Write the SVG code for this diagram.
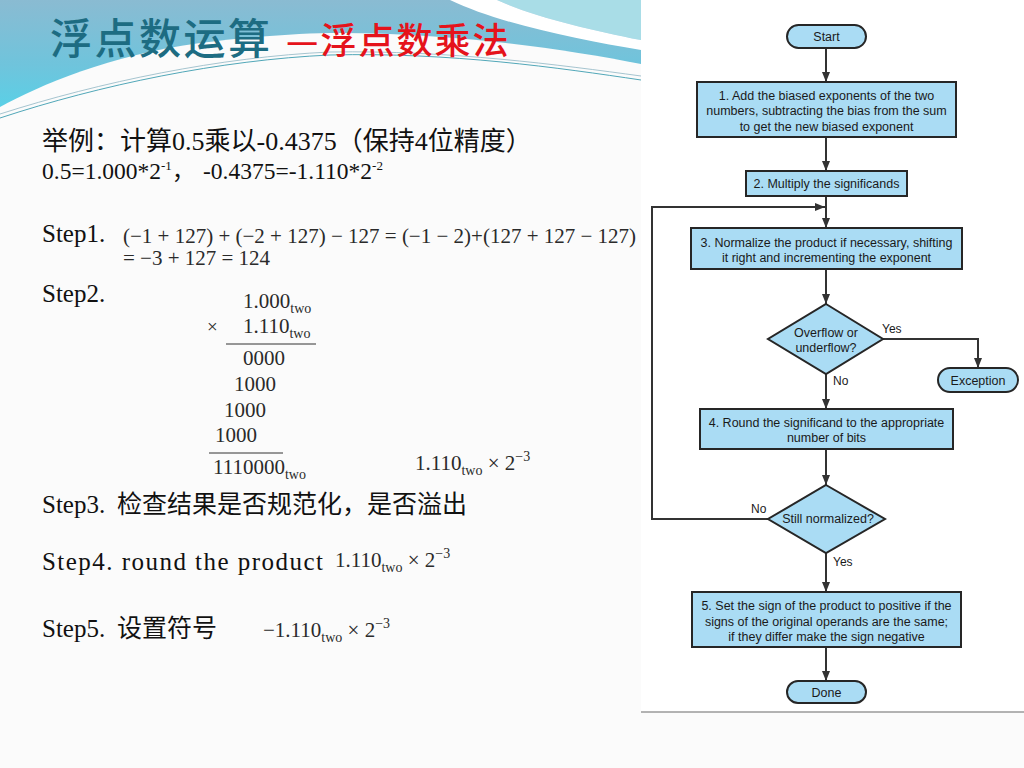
<svg xmlns="http://www.w3.org/2000/svg" width="1024" height="768" viewBox="0 0 1024 768">
<style>
.box{fill:#aadcf4;stroke:#262626;stroke-width:2}
.ft{font-family:"Liberation Sans",Arial,sans-serif;font-size:12.5px;fill:#1a1a1a;text-anchor:middle}
.fl{font-family:"Liberation Sans",Arial,sans-serif;font-size:12px;fill:#1a1a1a}
.con{fill:none;stroke:#333;stroke-width:2}
.st{font-family:"Liberation Serif","Noto Sans CJK SC",serif;font-size:25px;fill:#111}
.eq{font-family:"Liberation Serif","Times New Roman",serif;font-size:21px;fill:#2a2a2a}
.sub{font-size:14px}
.sup{font-size:13px}
</style>
<defs>
<linearGradient id="hdr" x1="0" y1="0" x2="0" y2="1">
<stop offset="0" stop-color="#8abbd2"/>
<stop offset="0.5" stop-color="#6fc4dc"/>
<stop offset="1" stop-color="#4fd6ec"/>
</linearGradient>
<marker id="arr" markerWidth="10" markerHeight="8" refX="10" refY="4" orient="auto" markerUnits="userSpaceOnUse">
<path d="M0,0 L10,4 L0,8 Z" fill="#333"/>
</marker>
</defs>
<rect x="0" y="0" width="1024" height="768" fill="#fbfbfb"/>
<g id="header">
<rect x="0" y="0" width="641" height="130" fill="url(#hdr)"/>
<path d="M497,0 H641 V40 C590,30 535,17 497,0 Z" fill="#a9dde7"/>
<path d="M450,0 H497 C535,17 590,30 641,40 V50 C580,40 500,24 450,0 Z" fill="#ffffff"/>
<path d="M0,107 C40,85 110,55 200,43 C260,36 300,33 340,33 C450,33 560,48 641,64 V768 H0 Z" fill="#fbfbfb"/>
<path d="M0,114 C100,82 220,57 330,52 C450,50 560,65 641,76" fill="none" stroke="#8fb6c4" stroke-width="0.8"/>
<path d="M0,118 C100,85 220,60 330,55 C450,52 560,68 641,80" fill="none" stroke="#3d9db0" stroke-width="0.9"/>
<text x="50" y="54" font-family="'Noto Sans CJK SC',sans-serif" font-size="42" font-weight="500" letter-spacing="2.5" fill="#1d6c82">浮点数运算</text>
<text x="286" y="54" font-family="'Noto Sans CJK SC',sans-serif" font-size="36" font-weight="500" letter-spacing="2" fill="#e5131b">—浮点数乘法</text>
</g>
<g id="example">
<text class="st" x="42" y="150" style="font-size:26px">举例：计算0.5乘以-0.4375（保持4位精度）</text>
<text class="st" x="42" y="179" style="font-size:23.5px">0.5=1.000*2<tspan class="sup" dy="-9">-1</tspan><tspan dy="9">，</tspan></text>
<text class="st" x="203" y="179" style="font-size:23.5px">-0.4375=-1.110*2<tspan class="sup" dy="-9">-2</tspan></text>
</g>
<g id="step1">
<text class="st" x="42" y="242">Step1.</text>
<text class="eq" x="123" y="243">(−1 + 127) + (−2 + 127) − 127 = (−1 − 2)+(127 + 127 − 127)</text>
<text class="eq" x="123" y="265">= −3 + 127 = 124</text>
</g>
<g id="step2">
<text class="st" x="42" y="302">Step2.</text>
<text class="eq" x="243" y="308">1.000<tspan class="sub" dy="5">two</tspan></text>
<text class="eq" x="207" y="333" style="font-size:19px">×</text>
<text class="eq" x="243" y="333">1.110<tspan class="sub" dy="5">two</tspan></text>
<line x1="226" y1="344" x2="316" y2="344" stroke="#333" stroke-width="1"/>
<text class="eq" x="243" y="365">0000</text>
<text class="eq" x="234" y="391">1000</text>
<text class="eq" x="224" y="417">1000</text>
<text class="eq" x="215" y="442">1000</text>
<line x1="209" y1="453" x2="283" y2="453" stroke="#333" stroke-width="1"/>
<text class="eq" x="213" y="474">1110000<tspan class="sub" dy="5">two</tspan></text>
<text class="eq" x="415" y="470">1.110<tspan class="sub" dy="5">two</tspan><tspan dy="-5"> × 2</tspan><tspan class="sub" dy="-9">−3</tspan></text>
</g>
<g id="step3">
<text class="st" x="42" y="513">Step3.</text>
<text class="st" x="117" y="513">检查结果是否规范化，是否溢出</text>
</g>
<g id="step4">
<text class="st" x="42" y="570" textLength="281">Step4. round  the product</text>
<text class="eq" x="335" y="567">1.110<tspan class="sub" dy="5">two</tspan><tspan dy="-5"> × 2</tspan><tspan class="sub" dy="-9">−3</tspan></text>
</g>
<g id="step5">
<text class="st" x="42" y="637">Step5.</text>
<text class="st" x="117" y="637">设置符号</text>
<text class="eq" x="263" y="637">−1.110<tspan class="sub" dy="5">two</tspan><tspan dy="-5"> × 2</tspan><tspan class="sub" dy="-9">−3</tspan></text>
</g>
<g id="flowchart-panel">
<rect x="641" y="0" width="383" height="712" fill="#ffffff"/>
<line x1="641" y1="712" x2="1024" y2="712" stroke="#9a9a9a" stroke-width="1.5"/>
</g>
<g id="connectors">
<path class="con" d="M826,48 V82" marker-end="url(#arr)"/>
<path class="con" d="M826,137 V171" marker-end="url(#arr)"/>
<path class="con" d="M826,196 V228" marker-end="url(#arr)"/>
<path class="con" d="M826,269 V304" marker-end="url(#arr)"/>
<path class="con" d="M883,339 H978 V368" marker-end="url(#arr)"/>
<path class="con" d="M826,374 V409" marker-end="url(#arr)"/>
<path class="con" d="M826,449 V485" marker-end="url(#arr)"/>
<path class="con" d="M768,519 H652 V207 H825" marker-end="url(#arr)"/>
<path class="con" d="M826,553 V592" marker-end="url(#arr)"/>
<path class="con" d="M826,647 V681" marker-end="url(#arr)"/>
<text class="fl" x="882" y="333">Yes</text>
<text class="fl" x="833" y="385">No</text>
<text class="fl" x="751" y="513">No</text>
<text class="fl" x="833" y="566">Yes</text>
</g>
<g id="start">
<rect class="box" x="787" y="25" width="79" height="23" rx="11.5"/>
<text class="ft" x="826.5" y="41">Start</text>
</g>
<g id="step-1">
<rect class="box" x="697" y="82" width="259" height="55"/>
<text class="ft" x="826.5" y="100">1.  Add the biased exponents of the two</text>
<text class="ft" x="826.5" y="115">numbers, subtracting the bias from the sum</text>
<text class="ft" x="826.5" y="131">to get the new biased exponent</text>
</g>
<g id="step-2">
<rect class="box" x="746" y="171" width="161" height="25"/>
<text class="ft" x="826.5" y="188">2. Multiply the significands</text>
</g>
<g id="step-3">
<rect class="box" x="691" y="228" width="271" height="41"/>
<text class="ft" x="826.5" y="247">3. Normalize the product if necessary, shifting</text>
<text class="ft" x="826.5" y="262">it right and incrementing the exponent</text>
</g>
<g id="overflow">
<path class="box" d="M826,304 L883,339 L826,374 L768,339 Z"/>
<text class="ft" x="826" y="337">Overflow or</text>
<text class="ft" x="826" y="352">underflow?</text>
</g>
<g id="exception">
<rect class="box" x="938" y="368" width="80" height="24" rx="12"/>
<text class="ft" x="978" y="385">Exception</text>
</g>
<g id="step-4">
<rect class="box" x="700" y="409" width="253" height="40"/>
<text class="ft" x="826.5" y="427">4. Round the significand to the appropriate</text>
<text class="ft" x="826.5" y="442">number of bits</text>
</g>
<g id="normalized">
<path class="box" d="M826,485 L885,519 L826,553 L768,519 Z"/>
<text class="ft" x="828" y="523">Still normalized?</text>
</g>
<g id="step-5">
<rect class="box" x="692" y="592" width="269" height="55"/>
<text class="ft" x="826.5" y="610">5. Set the sign of the product to positive if the</text>
<text class="ft" x="826.5" y="626">signs of the original operands are the same;</text>
<text class="ft" x="826.5" y="641">if they differ make the sign negative</text>
</g>
<g id="done">
<rect class="box" x="787" y="681" width="79" height="22" rx="11"/>
<text class="ft" x="826.5" y="697">Done</text>
</g>
</svg>
